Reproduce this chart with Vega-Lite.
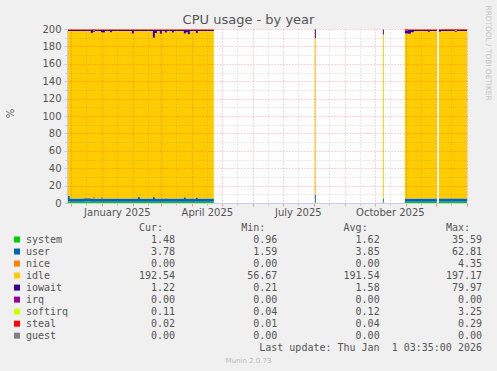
{
  "$schema": "https://vega.github.io/schema/vega-lite/v6.json",
  "width": 400,
  "height": 174,
  "autosize": {"type": "none"},
  "padding": {"left": 67, "top": 29, "right": 30, "bottom": 168},
  "background": "#f0f0f0",
  "view": {"fill": "#ffffff", "stroke": null},
  "config": {
    "axis": {"labelFont": "DejaVu Sans", "titleFont": "DejaVu Sans", "labelColor": "#555555", "labelFontSize": 10, "titleFontWeight": "normal"},
    "text": {"font": "DejaVu Sans Mono"}
  },
  "datasets": {
    "cpu": [
      {"t": "2024-11-28", "g": "a", "system": 1.8, "user": 6.5, "nice": 0, "idle": 189.3, "iowait": 1.3, "softirq": 0.1, "steal": 0.8},
      {"t": "2024-11-30", "g": "a", "system": 1.5, "user": 3.8, "nice": 0, "idle": 192.3, "iowait": 1.3, "softirq": 0.1, "steal": 0.8},
      {"t": "2024-12-14", "g": "a", "system": 1.6, "user": 3.9, "nice": 0, "idle": 192.1, "iowait": 1.3, "softirq": 0.1, "steal": 0.8},
      {"t": "2024-12-21", "g": "a", "system": 1.5, "user": 3.8, "nice": 0, "idle": 190.1, "iowait": 3.5, "softirq": 0.1, "steal": 0.8},
      {"t": "2024-12-23", "g": "a", "system": 1.5, "user": 3.8, "nice": 1.5, "idle": 189.9, "iowait": 2.0, "softirq": 0.1, "steal": 0.8},
      {"t": "2024-12-25", "g": "a", "system": 1.5, "user": 3.8, "nice": 0, "idle": 192.3, "iowait": 1.3, "softirq": 0.1, "steal": 0.8},
      {"t": "2024-12-31", "g": "a", "system": 1.5, "user": 3.8, "nice": 2.0, "idle": 189.1, "iowait": 2.5, "softirq": 0.1, "steal": 0.8},
      {"t": "2025-01-02", "g": "a", "system": 1.5, "user": 3.8, "nice": 0, "idle": 190.6, "iowait": 3.0, "softirq": 0.1, "steal": 0.8},
      {"t": "2025-01-04", "g": "a", "system": 1.5, "user": 3.8, "nice": 0, "idle": 192.3, "iowait": 1.3, "softirq": 0.1, "steal": 0.8},
      {"t": "2025-01-09", "g": "a", "system": 1.5, "user": 3.8, "nice": 0, "idle": 191.1, "iowait": 2.5, "softirq": 0.1, "steal": 0.8},
      {"t": "2025-01-11", "g": "a", "system": 1.5, "user": 3.8, "nice": 0, "idle": 192.3, "iowait": 1.3, "softirq": 0.1, "steal": 0.8},
      {"t": "2025-01-31", "g": "a", "system": 1.5, "user": 3.8, "nice": 0, "idle": 189.6, "iowait": 4.0, "softirq": 0.1, "steal": 0.8},
      {"t": "2025-02-02", "g": "a", "system": 1.5, "user": 3.8, "nice": 0, "idle": 192.3, "iowait": 1.3, "softirq": 0.1, "steal": 0.8},
      {"t": "2025-02-06", "g": "a", "system": 1.5, "user": 5.5, "nice": 0, "idle": 190.6, "iowait": 1.3, "softirq": 0.1, "steal": 0.8},
      {"t": "2025-02-08", "g": "a", "system": 1.5, "user": 3.8, "nice": 0, "idle": 192.3, "iowait": 1.3, "softirq": 0.1, "steal": 0.8},
      {"t": "2025-02-21", "g": "a", "system": 1.5, "user": 5.5, "nice": 0, "idle": 182.9, "iowait": 9.0, "softirq": 0.1, "steal": 0.8},
      {"t": "2025-02-23", "g": "a", "system": 1.5, "user": 3.8, "nice": 0, "idle": 190.1, "iowait": 3.5, "softirq": 0.1, "steal": 0.8},
      {"t": "2025-02-25", "g": "a", "system": 1.5, "user": 3.8, "nice": 0, "idle": 192.3, "iowait": 1.3, "softirq": 0.1, "steal": 0.8},
      {"t": "2025-02-28", "g": "a", "system": 1.5, "user": 3.8, "nice": 0, "idle": 189.1, "iowait": 4.5, "softirq": 0.1, "steal": 0.8},
      {"t": "2025-03-02", "g": "a", "system": 1.5, "user": 3.8, "nice": 0, "idle": 192.3, "iowait": 1.3, "softirq": 0.1, "steal": 0.8},
      {"t": "2025-03-05", "g": "a", "system": 1.5, "user": 3.8, "nice": 1.0, "idle": 189.6, "iowait": 3.0, "softirq": 0.1, "steal": 0.8},
      {"t": "2025-03-07", "g": "a", "system": 1.5, "user": 3.8, "nice": 0, "idle": 192.3, "iowait": 1.3, "softirq": 0.1, "steal": 0.8},
      {"t": "2025-03-12", "g": "a", "system": 1.5, "user": 3.8, "nice": 0, "idle": 190.6, "iowait": 3.0, "softirq": 0.1, "steal": 0.8},
      {"t": "2025-03-14", "g": "a", "system": 1.5, "user": 3.8, "nice": 0, "idle": 192.3, "iowait": 1.3, "softirq": 0.1, "steal": 0.8},
      {"t": "2025-03-24", "g": "a", "system": 1.5, "user": 5.0, "nice": 0, "idle": 188.4, "iowait": 4.0, "softirq": 0.1, "steal": 0.8},
      {"t": "2025-03-26", "g": "a", "system": 1.5, "user": 3.8, "nice": 0, "idle": 191.1, "iowait": 2.5, "softirq": 0.1, "steal": 0.8},
      {"t": "2025-03-28", "g": "a", "system": 1.5, "user": 3.8, "nice": 0, "idle": 188.6, "iowait": 5.0, "softirq": 0.1, "steal": 0.8},
      {"t": "2025-03-30", "g": "a", "system": 1.5, "user": 3.8, "nice": 0, "idle": 192.3, "iowait": 1.3, "softirq": 0.1, "steal": 0.8},
      {"t": "2025-04-05", "g": "a", "system": 1.5, "user": 4.8, "nice": 0, "idle": 189.1, "iowait": 3.5, "softirq": 0.1, "steal": 0.8},
      {"t": "2025-04-07", "g": "a", "system": 1.5, "user": 3.8, "nice": 0, "idle": 192.3, "iowait": 1.3, "softirq": 0.1, "steal": 0.8},
      {"t": "2025-04-23", "g": "a", "system": 1.5, "user": 3.8, "nice": 0, "idle": 192.3, "iowait": 1.3, "softirq": 0.1, "steal": 0.8},
      {"t": "2025-08-02", "g": "b", "system": 2.5, "user": 7.0, "nice": 0, "idle": 180.1, "iowait": 9.5, "softirq": 0.1, "steal": 0.8},
      {"t": "2025-08-03", "g": "b", "system": 2.5, "user": 7.0, "nice": 0, "idle": 180.1, "iowait": 9.5, "softirq": 0.1, "steal": 0.8},
      {"t": "2025-10-09", "g": "c", "system": 1.6, "user": 3.5, "nice": 0, "idle": 188.6, "iowait": 5.2, "softirq": 0.1, "steal": 0.8},
      {"t": "2025-10-10", "g": "c", "system": 1.6, "user": 3.5, "nice": 0, "idle": 188.6, "iowait": 5.2, "softirq": 0.1, "steal": 0.8},
      {"t": "2025-10-31", "g": "d", "system": 1.5, "user": 3.8, "nice": 0, "idle": 189.4, "iowait": 3.5, "softirq": 0.1, "steal": 1.5},
      {"t": "2025-11-03", "g": "d", "system": 1.5, "user": 3.8, "nice": 0, "idle": 189.1, "iowait": 4.5, "softirq": 0.1, "steal": 0.8},
      {"t": "2025-11-06", "g": "d", "system": 1.5, "user": 3.8, "nice": 0, "idle": 191.1, "iowait": 2.5, "softirq": 0.1, "steal": 0.8},
      {"t": "2025-11-09", "g": "d", "system": 1.5, "user": 3.8, "nice": 0, "idle": 192.3, "iowait": 1.3, "softirq": 0.1, "steal": 0.8},
      {"t": "2025-11-23", "g": "d", "system": 1.5, "user": 3.8, "nice": 0, "idle": 191.6, "iowait": 2.0, "softirq": 0.1, "steal": 0.8},
      {"t": "2025-11-25", "g": "d", "system": 1.5, "user": 3.8, "nice": 0, "idle": 192.3, "iowait": 1.3, "softirq": 0.1, "steal": 0.8},
      {"t": "2025-12-02", "g": "d", "system": 1.5, "user": 3.8, "nice": 0, "idle": 192.3, "iowait": 1.3, "softirq": 0.1, "steal": 0.8},
      {"t": "2025-12-04", "g": "e", "system": 1.5, "user": 3.8, "nice": 0, "idle": 191.6, "iowait": 2.0, "softirq": 0.1, "steal": 0.8},
      {"t": "2025-12-06", "g": "e", "system": 1.5, "user": 3.8, "nice": 0, "idle": 192.3, "iowait": 1.3, "softirq": 0.1, "steal": 0.8},
      {"t": "2025-12-20", "g": "e", "system": 1.5, "user": 3.8, "nice": 0, "idle": 191.6, "iowait": 1.3, "softirq": 0.8, "steal": 0.8},
      {"t": "2025-12-22", "g": "e", "system": 1.5, "user": 3.8, "nice": 0, "idle": 192.3, "iowait": 1.3, "softirq": 0.1, "steal": 0.8},
      {"t": "2026-01-01T03:35:00Z", "g": "e", "system": 1.5, "user": 3.8, "nice": 0, "idle": 192.3, "iowait": 1.3, "softirq": 0.1, "steal": 0.8}
    ],
    "leg": [
      {"i": 1, "name": "system", "Cur": "1.48", "Min": "0.96", "Avg": "1.62", "Max": "35.59"},
      {"i": 2, "name": "user", "Cur": "3.78", "Min": "1.59", "Avg": "3.85", "Max": "62.81"},
      {"i": 3, "name": "nice", "Cur": "0.00", "Min": "0.00", "Avg": "0.00", "Max": "4.35"},
      {"i": 4, "name": "idle", "Cur": "192.54", "Min": "56.67", "Avg": "191.54", "Max": "197.17"},
      {"i": 5, "name": "iowait", "Cur": "1.22", "Min": "0.21", "Avg": "1.58", "Max": "79.97"},
      {"i": 6, "name": "irq", "Cur": "0.00", "Min": "0.00", "Avg": "0.00", "Max": "0.00"},
      {"i": 7, "name": "softirq", "Cur": "0.11", "Min": "0.04", "Avg": "0.12", "Max": "3.25"},
      {"i": 8, "name": "steal", "Cur": "0.02", "Min": "0.01", "Avg": "0.04", "Max": "0.29"},
      {"i": 9, "name": "guest", "Cur": "0.00", "Min": "0.00", "Avg": "0.00", "Max": "0.00"}
    ],
    "hdr": [
      {"col": "Cur", "label": "Cur:"},
      {"col": "Min", "label": "Min:"},
      {"col": "Avg", "label": "Avg:"},
      {"col": "Max", "label": "Max:"}
    ],
    "foot": [
      {"text": "Last update: Thu Jan\u00a0 1 03:35:00 2026"}
    ]
  },
  "layer": [
    {
      "layer": [
        {
          "data": {"name": "cpu"},
          "transform": [
            {"fold": ["system", "user", "nice", "idle", "iowait", "softirq", "steal"]},
            {"lookup": "key", "from": {"data": {"name": "leg"}, "key": "name", "fields": ["i"]}}
          ],
          "mark": {"type": "area", "interpolate": "step-after", "opacity": 1},
          "encoding": {
            "x": {
              "field": "t", "type": "temporal",
              "scale": {"type": "utc", "domain": [
                {"year": 2024, "month": 11, "date": 27, "hours": 3, "minutes": 35, "utc": true},
                {"year": 2026, "month": 1, "date": 1, "hours": 3, "minutes": 35, "utc": true}
              ]},
              "axis": {
                "orient": "bottom",
                "values": [
                  {"year": 2024, "month": 12, "date": 1, "utc": true},
                  {"year": 2025, "month": 1, "date": 1, "utc": true},
                  {"year": 2025, "month": 2, "date": 1, "utc": true},
                  {"year": 2025, "month": 3, "date": 1, "utc": true},
                  {"year": 2025, "month": 4, "date": 1, "utc": true},
                  {"year": 2025, "month": 5, "date": 1, "utc": true},
                  {"year": 2025, "month": 6, "date": 1, "utc": true},
                  {"year": 2025, "month": 7, "date": 1, "utc": true},
                  {"year": 2025, "month": 8, "date": 1, "utc": true},
                  {"year": 2025, "month": 9, "date": 1, "utc": true},
                  {"year": 2025, "month": 10, "date": 1, "utc": true},
                  {"year": 2025, "month": 11, "date": 1, "utc": true},
                  {"year": 2025, "month": 12, "date": 1, "utc": true},
                  {"year": 2026, "month": 1, "date": 1, "utc": true}
                ],
                "grid": true, "gridColor": "#ff0000", "gridOpacity": 0.35, "gridDash": [1, 2],
                "ticks": true, "tickColor": "#ff9090", "tickSize": 3,
                "labels": false, "domain": false, "title": null, "zindex": 1
              }
            },
            "y": {
              "field": "value", "type": "quantitative", "stack": "zero", "impute": null,
              "scale": {"domain": [0, 200], "nice": false},
              "axis": {
                "orient": "left",
                "values": [0, 20, 40, 60, 80, 100, 120, 140, 160, 180, 200],
                "grid": true, "gridColor": "#ff0000", "gridOpacity": 0.35, "gridDash": [1, 2],
                "ticks": true, "tickColor": "#c8c8e0", "tickSize": 3, "labelPadding": 3,
                "domain": false,
                "title": "%", "titleX": -57, "titleY": 84, "titleAngle": -90,
                "titleAlign": "center", "titleBaseline": "middle",
                "titleFontSize": 10, "titleColor": "#555555", "zindex": 1
              }
            },
            "color": {
              "field": "key", "type": "nominal",
              "scale": {
                "domain": ["system", "user", "nice", "idle", "iowait", "irq", "softirq", "steal", "guest"],
                "range": ["#00cc00", "#0066b3", "#ff8000", "#ffcc00", "#330099", "#990099", "#ccff00", "#ff0000", "#808080"]
              },
              "legend": null
            },
            "detail": {"field": "g", "type": "nominal"},
            "order": {"field": "i", "type": "quantitative"}
          }
        },
        {
          "mark": {"type": "point", "opacity": 0},
          "encoding": {
            "x": {
              "datum": {"year": 2025, "month": 6, "date": 1, "utc": true}, "type": "temporal",
              "axis": {
                "orient": "bottom",
                "values": [
                  {"year": 2024, "month": 12, "date": 16, "utc": true},
                  {"year": 2025, "month": 1, "date": 16, "utc": true},
                  {"year": 2025, "month": 2, "date": 16, "utc": true},
                  {"year": 2025, "month": 3, "date": 16, "utc": true},
                  {"year": 2025, "month": 4, "date": 16, "utc": true},
                  {"year": 2025, "month": 5, "date": 16, "utc": true},
                  {"year": 2025, "month": 6, "date": 16, "utc": true},
                  {"year": 2025, "month": 7, "date": 16, "utc": true},
                  {"year": 2025, "month": 8, "date": 16, "utc": true},
                  {"year": 2025, "month": 9, "date": 16, "utc": true},
                  {"year": 2025, "month": 10, "date": 16, "utc": true},
                  {"year": 2025, "month": 11, "date": 16, "utc": true},
                  {"year": 2025, "month": 12, "date": 16, "utc": true}
                ],
                "grid": true, "gridColor": "#909090", "gridOpacity": 0.4, "gridDash": [1, 2],
                "ticks": true, "tickColor": "#c0c0c0", "tickSize": 2,
                "labels": false, "domain": true, "domainColor": "#c8ccf0", "title": null, "zindex": 1
              }
            },
            "y": {
              "datum": 100, "type": "quantitative",
              "axis": {
                "orient": "left",
                "values": [10, 30, 50, 70, 90, 110, 130, 150, 170, 190],
                "grid": true, "gridColor": "#909090", "gridOpacity": 0.4, "gridDash": [1, 2],
                "ticks": true, "tickColor": "#c8c8e0", "tickSize": 2,
                "labels": false, "domain": true, "domainColor": "#c8ccf0", "title": null, "zindex": 1
              }
            }
          }
        },
        {
          "mark": {"type": "point", "opacity": 0},
          "encoding": {
            "x": {
              "datum": {"year": 2025, "month": 6, "date": 1, "utc": true}, "type": "temporal",
              "axis": {
                "orient": "bottom",
                "values": [
                  {"year": 2025, "month": 1, "date": 16, "utc": true},
                  {"year": 2025, "month": 4, "date": 16, "utc": true},
                  {"year": 2025, "month": 7, "date": 16, "utc": true},
                  {"year": 2025, "month": 10, "date": 16, "utc": true}
                ],
                "labelExpr": "utcFormat(datum.value, '%B %Y')",
                "labelPadding": 4, "labelBaseline": "top", "labelFlush": false, "labelOverlap": false,
                "ticks": false, "grid": false, "domain": false,
                "title": "Munin 2.0.73", "titleX": 181, "titleY": 157,
                "titleAlign": "center", "titleBaseline": "middle",
                "titleFontSize": 7, "titleColor": "#bbbbbb"
              }
            },
            "y": {
              "datum": 100, "type": "quantitative",
              "axis": {
                "orient": "right", "labels": false, "ticks": false, "grid": false, "domain": false,
                "title": "RRDTOOL / TOBI OETIKER", "titleAngle": 90, "titleX": 20, "titleY": -24,
                "titleAlign": "left", "titleBaseline": "middle",
                "titleFontSize": 7.4, "titleColor": "#c4c4c4"
              }
            }
          }
        },
        {
          "mark": {"type": "point", "shape": "triangle-right", "filled": true, "size": 30, "color": "#c8ccf0", "opacity": 1},
          "encoding": {
            "x": {
              "datum": {"year": 2026, "month": 1, "date": 4, "hours": 12, "utc": true}, "type": "temporal",
              "axis": {
                "orient": "top", "labels": false, "ticks": false, "grid": false, "domain": false,
                "title": "CPU usage - by year", "titleX": 181, "titleY": -5.5,
                "titleAlign": "center", "titleBaseline": "alphabetic", "titleAngle": 0,
                "titleFontSize": 13, "titleColor": "#555555"
              }
            },
            "y": {"datum": 0, "type": "quantitative", "axis": null}
          }
        },
        {
          "mark": {"type": "point", "shape": "triangle-up", "filled": true, "size": 30, "color": "#c8ccf0", "opacity": 1},
          "encoding": {
            "x": {"datum": {"year": 2024, "month": 11, "date": 27, "hours": 3, "minutes": 35, "utc": true}, "type": "temporal", "axis": null},
            "y": {"datum": 206.5, "type": "quantitative", "axis": null}
          }
        }
      ],
      "resolve": {"axis": {"x": "independent", "y": "independent"}}
    },
    {
      "layer": [
        {
          "data": {"name": "leg"},
          "layer": [
            {
              "mark": {"type": "square", "size": 36, "filled": true, "opacity": 1},
              "encoding": {
                "x": {"datum": "sw", "type": "nominal", "scale": {"type": "point", "domain": ["sw", "nm"], "range": [-50, -41], "padding": 0}, "axis": null},
                "y": {"field": "name", "type": "nominal", "scale": {"type": "point", "domain": ["hdr", "system", "user", "nice", "idle", "iowait", "irq", "softirq", "steal", "guest", "upd"], "range": [198.5, 318.7], "padding": 0}, "axis": null},
                "color": {"field": "name", "type": "nominal", "legend": null}
              }
            },
            {
              "mark": {"type": "text", "align": "left", "baseline": "middle", "font": "DejaVu Sans Mono", "fontSize": 10, "color": "#555555"},
              "encoding": {
                "x": {"datum": "nm", "type": "nominal", "axis": null},
                "y": {"field": "name", "type": "nominal", "axis": null},
                "text": {"field": "name", "type": "nominal"}
              }
            }
          ]
        },
        {
          "layer": [
            {
              "data": {"name": "leg"},
              "transform": [{"fold": ["Cur", "Min", "Avg", "Max"], "as": ["col", "val"]}],
              "mark": {"type": "text", "align": "right", "baseline": "middle", "font": "DejaVu Sans Mono", "fontSize": 10, "color": "#555555"},
              "encoding": {
                "x": {"field": "col", "type": "nominal", "scale": {"type": "point", "domain": ["Cur", "Min", "Avg", "Max"], "range": [108, 415], "padding": 0}, "axis": null},
                "y": {"field": "name", "type": "nominal", "axis": null},
                "text": {"field": "val", "type": "nominal"}
              }
            },
            {
              "data": {"name": "hdr"},
              "mark": {"type": "text", "align": "right", "baseline": "middle", "dx": -12, "font": "DejaVu Sans Mono", "fontSize": 10, "color": "#555555"},
              "encoding": {
                "x": {"field": "col", "type": "nominal", "axis": null},
                "y": {"datum": "hdr", "type": "nominal", "axis": null},
                "text": {"field": "label", "type": "nominal"}
              }
            },
            {
              "data": {"name": "foot"},
              "mark": {"type": "text", "align": "right", "baseline": "middle", "font": "DejaVu Sans Mono", "fontSize": 10, "color": "#555555"},
              "encoding": {
                "x": {"datum": "Max", "type": "nominal", "axis": null},
                "y": {"datum": "upd", "type": "nominal", "axis": null},
                "text": {"field": "text", "type": "nominal"}
              }
            }
          ]
        }
      ],
      "resolve": {"scale": {"x": "independent"}}
    }
  ],
  "resolve": {"scale": {"x": "independent", "y": "independent"}}
}
